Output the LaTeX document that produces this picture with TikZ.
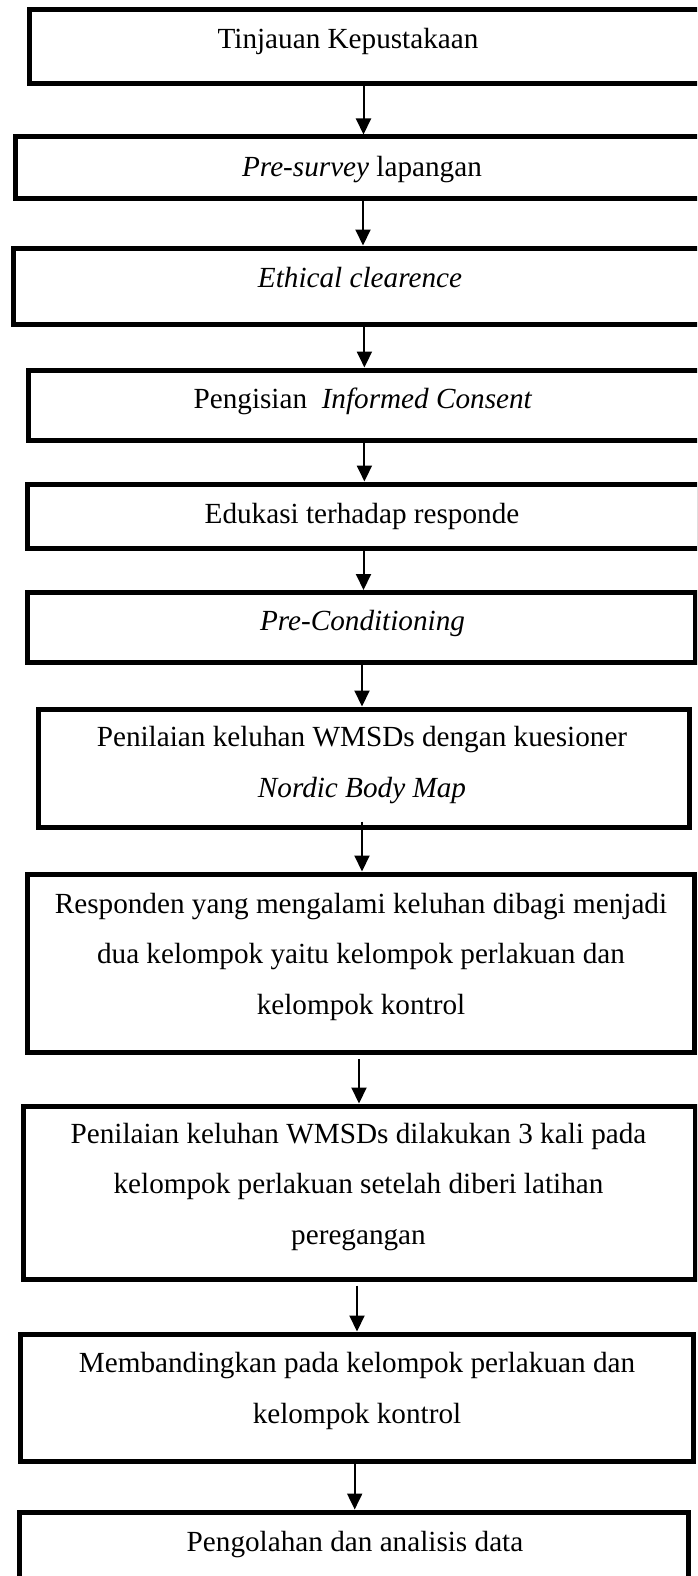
\documentclass[tikz,border=0pt]{standalone}
\usepackage{fontspec}
\setmainfont{Liberation Serif}
\usetikzlibrary{arrows.meta,fit}
\begin{document}
\begin{tikzpicture}[x=1pt,y=-1pt,
  box/.style={draw=black, line width=5pt, inner sep=0pt, rectangle},
  txt/.style={font=\fontsize{29.2}{50.5}\selectfont, inner sep=0pt, align=center, anchor=base},
  arr/.style={line width=2pt, -{Triangle[length=16pt,width=15pt]}}]
\useasboundingbox (0,0) rectangle (697,1576);
\clip (0,0) rectangle (697,1576);
\fill[white] (0,0) rectangle (697,1576);
% boxes
\node[box, fit={(29.5,9.5) (730,84)}] (b1) {};
\node[box, fit={(15,137) (730,198.5)}] (b2) {};
\node[box, fit={(13,248) (730,324)}] (b3) {};
\node[box, fit={(28,370) (730,440.5)}] (b4) {};
\node[box, fit={(27,484) (699,548.5)}] (b5) {};
\node[box, fit={(27,592.5) (695,662)}] (b6) {};
\node[box, fit={(38.5,709) (689,827.5)}] (b7) {};
\node[box, fit={(27,874) (694,1052.5)}] (b8) {};
\node[box, fit={(23,1106) (695,1279)}] (b9) {};
\node[box, fit={(20.7,1334) (693,1461.5)}] (b10) {};
\node[box, fit={(19.5,1512) (688.5,1610)}] (b11) {};
% texts (anchor = baseline of the last line)
\node[txt] (t1) at (348,49) {Tinjauan Kepustakaan};
\node[txt] (t2) at (362,176) {\textit{Pre-survey} lapangan};
\node[txt] (t3) at (360,287) {\textit{Ethical clearence}};
\node[txt] (t4) at (363,408) {Pengisian\ \ \textit{Informed Consent}};
\node[txt] (t5) at (362,523) {Edukasi terhadap responde};
\node[txt] (t6) at (362.5,630) {\textit{Pre-Conditioning}};
\node[txt] (t7) at (362,797) {Penilaian keluhan WMSDs dengan kuesioner\\ \textit{Nordic Body Map}};
\node[txt] (t8) at (361,1014) {Responden yang mengalami keluhan dibagi menjadi\\ dua kelompok yaitu kelompok perlakuan dan\\ kelompok kontrol};
\node[txt] (t9) at (358.5,1244) {Penilaian keluhan WMSDs dilakukan 3 kali pada\\ kelompok perlakuan setelah diberi latihan\\ peregangan};
\node[txt] (t10) at (357,1423) {Membandingkan pada kelompok perlakuan dan\\ kelompok kontrol};
\node[txt] (t11) at (355,1551) {Pengolahan dan analisis data};
% arrow x positions
\coordinate (x1) at (363.5,0);
\coordinate (x2) at (363,0);
\coordinate (x3) at (364.4,0);
\coordinate (x4) at (364.4,0);
\coordinate (x5) at (363.5,0);
\coordinate (x6) at (362,0);
\coordinate (x7) at (362,821.7);
\coordinate (x8) at (359,0);
\coordinate (x9) at (357,0);
\coordinate (x10) at (354.7,0);
\draw[arr] (x1 |- b1.south) -- (x1 |- b2.north);
\draw[arr] (x2 |- b2.south) -- (x2 |- b3.north);
\draw[arr] (x3 |- b3.south) -- (x3 |- b4.north);
\draw[arr] (x4 |- b4.south) -- (x4 |- b5.north);
\draw[arr] (x5 |- b5.south) -- (x5 |- b6.north);
\draw[arr] (x6 |- b6.south) -- (x6 |- b7.north);
\draw[arr] (x7) -- (x7 |- b8.north);
\draw[arr] ([yshift=-4pt]x8 |- b8.south) -- (x8 |- b9.north);
\draw[arr] ([yshift=-4pt]x9 |- b9.south) -- (x9 |- b10.north);
\draw[arr] (x10 |- b10.south) -- (x10 |- b11.north);
\end{tikzpicture}
\end{document}
